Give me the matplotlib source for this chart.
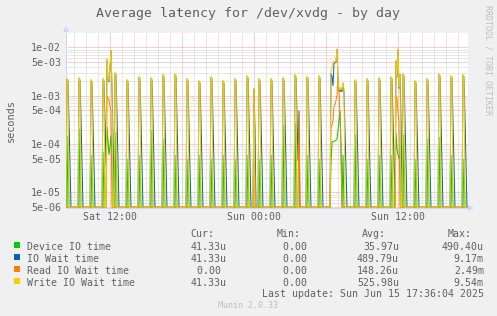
import numpy as np
import matplotlib
matplotlib.use("Agg")
import matplotlib.pyplot as plt
from matplotlib.patches import Rectangle, Polygon

# ---------------- data ----------------
start_hour = 8 + 20 / 60          # left edge of graph: Sat 08:20 (hours since Sat 00:00)
n_samples = 402                   # 5-minute samples across the graph
tick_hours = [12, 24, 36]
tick_labels = ["Sat 12:00", "Sun 00:00", "Sun 12:00"]
ytick_values = [5e-6, 1e-5, 5e-5, 1e-4, 5e-4, 1e-3, 5e-3, 1e-2]
ytick_labels = ["5e-06", "1e-05", "5e-05", "1e-04", "5e-04", "1e-03", "5e-03", "1e-02"]

# hourly bursts, first one at sample 1 (Sat 08:25), then every hour (12 samples)
# write: first and second sample of each burst
hourly_write = [2.31e-3, 2.42e-3, 2.20e-3, 2.31e-3, 3.07e-3, 2.20e-3, 2.54e-3, 2.42e-3,
                2.80e-3, 2.90e-3, 2.31e-3, 2.10e-3, 2.54e-3, 2.10e-3, 2.31e-3, 2.66e-3,
                2.31e-3, 2.31e-3, 2.42e-3, 2.80e-3, 2.54e-3, 2.66e-3, 3.07e-3, 1.90e-3,
                2.20e-3, 2.31e-3, 2.42e-3, 2.54e-3, 2.90e-3, 2.10e-3, 2.31e-3, 2.90e-3,
                2.66e-3, 2.80e-3]
hourly_write2 = [2.1e-3, 2.2e-3, 2.0e-3, 2.1e-3, 2.8e-3, 2.0e-3, 2.3e-3, 2.2e-3,
                 2.5e-3, 2.6e-3, 2.1e-3, 1.9e-3, 2.3e-3, 1.9e-3, 2.1e-3, 2.4e-3,
                 2.1e-3, 2.1e-3, 2.2e-3, 2.5e-3, 2.3e-3, 2.4e-3, 2.8e-3, 1.7e-3,
                 2.0e-3, 2.1e-3, 2.2e-3, 2.3e-3, 2.6e-3, 1.9e-3, 2.1e-3, 2.6e-3,
                 2.4e-3, 2.5e-3]
# io wait: four samples of each burst
hourly_iowait = [2.2e-3, 2.3e-3, 2.1e-3, 2.2e-3, 2.9e-3, 2.1e-3, 2.4e-3, 2.3e-3,
                 2.7e-3, 2.8e-3, 2.2e-3, 2.0e-3, 2.4e-3, 2.0e-3, 2.2e-3, 2.5e-3,
                 2.2e-3, 2.2e-3, 2.3e-3, 2.7e-3, 2.4e-3, 2.5e-3, 2.9e-3, 1.8e-3,
                 2.1e-3, 2.2e-3, 2.3e-3, 2.4e-3, 2.8e-3, 2.0e-3, 2.2e-3, 2.8e-3,
                 2.5e-3, 2.7e-3]
hourly_iowait2 = [2.0e-3, 2.1e-3, 1.9e-3, 2.0e-3, 2.7e-3, 1.9e-3, 2.2e-3, 2.1e-3,
                  2.4e-3, 2.5e-3, 2.0e-3, 1.8e-3, 2.2e-3, 1.8e-3, 2.0e-3, 2.3e-3,
                  2.0e-3, 2.0e-3, 2.1e-3, 2.4e-3, 2.2e-3, 2.3e-3, 2.7e-3, 1.6e-3,
                  1.9e-3, 2.0e-3, 2.1e-3, 2.2e-3, 2.5e-3, 1.8e-3, 2.0e-3, 2.5e-3,
                  2.3e-3, 2.4e-3]
hourly_iowait3 = [3.0e-4, 3.5e-4, 2.5e-4, 3.0e-4, 4.0e-4, 2.5e-4, 3.0e-4, 3.5e-4,
                  3.0e-4, 3.5e-4, 2.5e-4, 3.0e-4, 3.0e-4, 2.5e-4, 3.0e-4, 3.5e-4,
                  3.0e-4, 2.5e-4, 3.5e-4, 4.0e-4, 3.0e-4, 3.0e-4, 3.0e-4, 2.5e-4,
                  3.0e-4, 2.5e-4, 3.0e-4, 3.5e-4, 3.5e-4, 2.5e-4, 3.0e-4, 3.5e-4,
                  3.0e-4, 3.5e-4]
hourly_iowait4 = [3.5e-5, 4.0e-5, 3.0e-5, 3.5e-5, 4.5e-5, 3.0e-5, 3.5e-5, 4.0e-5,
                  3.5e-5, 4.0e-5, 3.0e-5, 3.5e-5, 3.5e-5, 3.0e-5, 3.5e-5, 4.0e-5,
                  3.5e-5, 3.0e-5, 4.0e-5, 4.5e-5, 3.5e-5, 3.5e-5, 3.5e-5, 3.0e-5,
                  3.5e-5, 3.0e-5, 3.5e-5, 4.0e-5, 4.0e-5, 3.0e-5, 3.5e-5, 4.0e-5,
                  3.5e-5, 4.0e-5]
hourly_device = [1.5e-4, 2.1e-4, 6e-5, 7e-5, 1.75e-4, 5e-5, 6e-5, 1.9e-4,
                 1.3e-4, 6e-5, 5e-5, 6e-5, 5e-5, 6e-5, 5e-5, 6e-5,
                 5e-5, 6e-5, 2.5e-4, 2.8e-4, 6e-5, 5e-5, 4e-5, 6e-5,
                 1.6e-4, 5e-5, 6e-5, 6e-5, 1.6e-4, 5e-5, 1.3e-4, 1.4e-4,
                 6e-5, 5e-5]

# busier periods and extra bursts (sample index and values)
busy_idx = [41, 42, 43, 44, 45, 46, 47,
            188, 189, 233, 234,
            265, 266, 267, 268, 269, 270, 271, 272, 273, 274, 275, 276, 277, 278, 279,
            329, 330, 331, 332, 333, 334, 335]
busy_write = [6.0e-3, 2.4e-3, 2.0e-3, 4.0e-3, 9.0e-3, 1.5e-3, 0,
              1.45e-3, 0, 0, 0,
              3.07e-3, 4.0e-3, 5.0e-3, 5.2e-3, 5.0e-3, 5.2e-3, 9.54e-3, 1.8e-3, 1.4e-3,
              1.3e-3, 1.5e-3, 1.3e-3, 1.9e-3, 1.3e-3, 0,
              0, 5.5e-3, 2.5e-3, 9.5e-3, 1.5e-3, 2.9e-3, 0]
busy_iowait = [5.6e-3, 2.3e-3, 1.9e-3, 3.8e-3, 8.6e-3, 1.4e-3, 1.5e-4,
               1.4e-3, 2e-4, 4.8e-4, 0,
               2.9e-3, 2.5e-3, 1.6e-3, 4.6e-3, 4.8e-3, 5.0e-3, 9.17e-3, 1.9e-3, 1.3e-3,
               1.2e-3, 1.4e-3, 1.2e-3, 1.8e-3, 1.2e-3, 2e-4,
               0, 5.3e-3, 2.4e-3, 9.1e-3, 1.4e-3, 2.8e-3, 3e-4]
busy_read = [1.0e-3, 9e-4, 8e-4, 6e-4, 5e-4, 0, 0,
             1.4e-3, 0, 5.0e-4, 0,
             2.2e-4, 2.5e-4, 3.0e-4, 6.0e-4, 6.5e-4, 8.0e-4, 1.0e-3, 2.49e-3, 1.2e-3,
             4.0e-4, 6e-5, 0, 0, 0, 0,
             0, 9.5e-4, 9.0e-4, 4.5e-4, 3.0e-4, 0, 0]
busy_device = [2.3e-4, 1.2e-4, 6e-5, 9e-5, 1.5e-4, 5e-5, 0,
               0, 0, 0, 0,
               4e-5, 1.1e-4, 1.15e-4, 1.15e-4, 1.15e-4, 1.2e-4, 1.3e-4, 1.9e-4, 3.0e-4,
               4.904e-4, 1.0e-4, 0, 6e-5, 0, 0,
               0, 1.7e-4, 8e-5, 6e-5, 5e-5, 6e-5, 0]

series_names = ["Device IO time", "IO Wait time", "Read IO Wait time", "Write IO Wait time"]
series_colors = ["#00CC00", "#0066B3", "#FF8000", "#FFCC00"]
cur_vals = ["41.33u", "41.33u", "0.00 ", "41.33u"]
min_vals = ["0.00 ", "0.00 ", "0.00 ", "0.00 "]
avg_vals = ["35.97u", "489.79u", "148.26u", "525.98u"]
max_vals = ["490.40u", "9.17m", "2.49m", "9.54m"]

# ---------------- build series ----------------
write = np.zeros(n_samples)
iowait = np.zeros(n_samples)
read = np.zeros(n_samples)
device = np.zeros(n_samples)
for k in range(len(hourly_write)):
    s = 1 + 12 * k
    for off, (wv, iv, dv) in enumerate([(hourly_write[k], hourly_iowait[k], 0.0),
                                        (hourly_write2[k], hourly_iowait2[k], hourly_device[k]),
                                        (0.0, hourly_iowait3[k], 0.0),
                                        (0.0, hourly_iowait4[k], 0.0)]):
        if s + off < n_samples:
            write[s + off] = wv
            iowait[s + off] = iv
            device[s + off] = dv
for j, i in enumerate(busy_idx):
    write[i] = busy_write[j]
    iowait[i] = busy_iowait[j]
    read[i] = busy_read[j]
    device[i] = busy_device[j]

hours = start_hour + np.arange(n_samples) / 12.0

# ---------------- figure ----------------
W, H = 497, 316
fig = plt.figure(figsize=(W / 100, H / 100), dpi=100, facecolor="#F0F0F0")
L, R, T, B = 66, 468, 33, 208
ax = fig.add_axes([L / W, 1 - B / H, (R - L) / W, (B - T) / H])
ax.set_facecolor("white")

ymin, ymax = 4.77e-6, 1.98e-2
ax.set_yscale("log")
ax.set_ylim(ymin, ymax)
ax.set_xlim(start_hour, start_hour + n_samples / 12.0)

px = 0.72
# grid
grid_gray = "#D2D2D2"
grid_red = "#EFA0A0"
for h in range(9, 42):
    c = grid_red if h % 6 == 0 else grid_gray
    ax.axvline(h, color=c, lw=px, ls=(0, (1, 1)), zorder=1)
for d in range(-6, -1):
    for m in range(1, 10):
        v = m * 10.0 ** d
        if ymin < v < ymax:
            c = grid_red if m in (1, 5) else grid_gray
            ax.axhline(v, color=c, lw=px, ls=(0, (1, 1)), zorder=1)

floor = 4.95e-6
for vals, col in zip([device, iowait, read, write], series_colors):
    ax.plot(hours, np.maximum(vals, floor), color=col, lw=px, zorder=3,
            solid_joinstyle="miter")

for sp in ["top", "right"]:
    ax.spines[sp].set_visible(False)
axis_col = "#CFD6F8"
for sp in ["left", "bottom"]:
    ax.spines[sp].set_color(axis_col)
    ax.spines[sp].set_linewidth(px)

font = "DejaVu Sans Mono"
txt_col = "#606060"
fs = 7.1
ax.set_yticks(ytick_values)
ax.set_yticklabels(ytick_labels, fontsize=fs, family=font, color=txt_col)
ax.yaxis.set_minor_locator(matplotlib.ticker.NullLocator())
ax.tick_params(axis="y", length=0, pad=3.6)
ax.set_xticks(tick_hours)
ax.set_xticklabels(tick_labels, fontsize=fs, family=font, color=txt_col)
ax.tick_params(axis="x", length=0, pad=3.2)


def pix_poly(points, color):
    pts = [[x / W, 1 - y / H] for x, y in points]
    fig.patches.append(Polygon(pts, closed=True, transform=fig.transFigure,
                               facecolor=color, edgecolor="none"))


# axis arrows
pix_poly([[L - 3, T - 1], [L + 3, T - 1], [L, T - 7]], axis_col)
pix_poly([[R, B - 3], [R, B + 3], [R + 6, B]], axis_col)


def ftext(x, y, s, **kw):
    fig.text(x / W, 1 - y / H, s, **kw)


ftext(248.5, 17, "Average latency for /dev/xvdg - by day", ha="center", va="baseline",
      fontsize=9.5, family=font, color=txt_col)
ftext(11, 120.5, "seconds", ha="center", va="center", rotation=90,
      fontsize=7.4, family=font, color=txt_col)
ftext(488, 60, "RRDTOOL / TOBI OETIKER", ha="center", va="center", rotation=270,
      fontsize=6, family=font, color="#BEBEBE")

# legend
for hx, hs in [(190.7, "Cur:"), (277, "Min:"), (362, "Avg:"), (448, "Max:")]:
    ftext(hx, 237, hs, ha="left", va="baseline", fontsize=fs, family=font, color=txt_col)
cw = 5.93
for r, (name, col) in enumerate(zip(series_names, series_colors)):
    yb = 249.5 + 12 * r
    fig.patches.append(Rectangle((14 / W, 1 - (yb - 1.5) / H), 6 / W, 6 / H,
                                 transform=fig.transFigure, facecolor=col, edgecolor="none"))
    ftext(26.7, yb, name, ha="left", va="baseline", fontsize=fs, family=font, color=txt_col)
    for s, xend in [(cur_vals[r], 226.5), (min_vals[r], 306.5 + cw),
                    (avg_vals[r], 398.5), (max_vals[r], 483.5)]:
        ftext(xend - cw * len(s), yb, s, ha="left", va="baseline", fontsize=fs,
              family=font, color=txt_col)

ftext(261.5, 297, "Last update: Sun Jun 15 17:36:04 2025", ha="left", va="baseline",
      fontsize=fs, family=font, color=txt_col)
ftext(218, 307.5, "Munin 2.0.33", ha="left", va="baseline", fontsize=6, family=font,
      color="#BEBEBE")

fig.savefig("out.png", dpi=100, facecolor=fig.get_facecolor())
